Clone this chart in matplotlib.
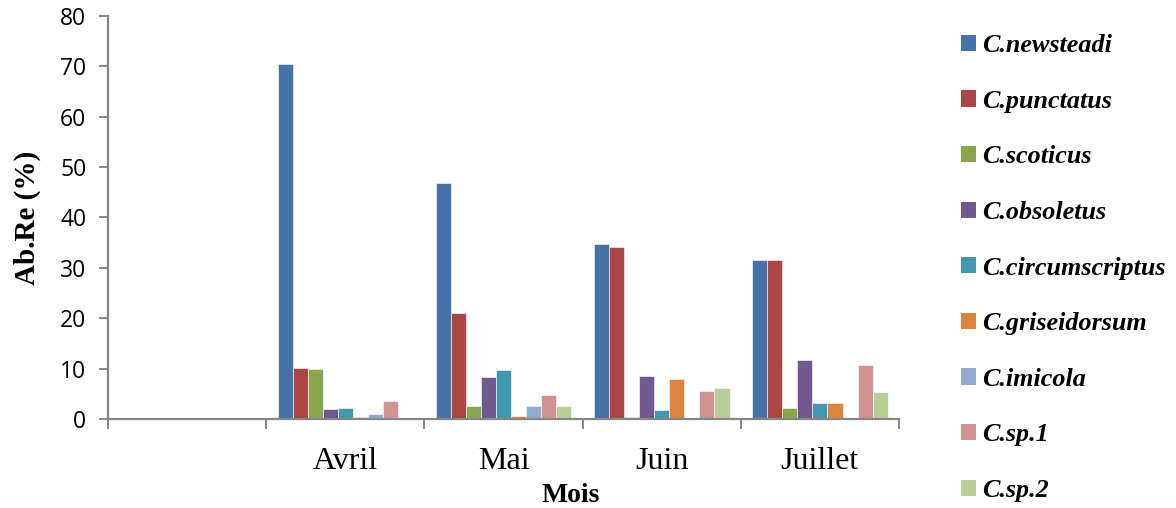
import numpy as np
import matplotlib
matplotlib.use("Agg")
import matplotlib.pyplot as plt
from matplotlib.patches import Patch

# Months (first category is empty in the original chart)
months = ["", "Avril", "Mai", "Juin", "Juillet"]

species = ["C.newsteadi", "C.punctatus", "C.scoticus", "C.obsoletus",
           "C.circumscriptus", "C.griseidorsum", "C.imicola", "C.sp.1", "C.sp.2"]

# Relative abundance (%) per species, one value per month
newsteadi = [0, 70.5, 46.8, 34.8, 31.5]
punctatus = [0, 10.1, 21.0, 34.1, 31.5]
scoticus = [0, 9.9, 2.6, 0.4, 2.1]
obsoletus = [0, 1.9, 8.4, 8.6, 11.8]
circumscriptus = [0, 2.1, 9.8, 1.8, 3.2]
griseidorsum = [0, 0.3, 0.5, 8.0, 3.2]
imicola = [0, 1.0, 2.6, 0, 0]
sp1 = [0, 3.6, 4.8, 5.5, 10.8]
sp2 = [0, 0, 2.6, 6.1, 5.4]

series = [newsteadi, punctatus, scoticus, obsoletus, circumscriptus,
          griseidorsum, imicola, sp1, sp2]

colors = ["#4572A7", "#AA4643", "#89A54E", "#71588F", "#4198AF",
          "#DB843D", "#93A9CF", "#D19392", "#B9CD96"]

axis_gray = "#868686"

fig = plt.figure(figsize=(11.76, 5.08), dpi=100)
ax = fig.add_axes([108 / 1176, 89 / 508, 791 / 1176, 403 / 508])

n = len(series)
x = np.arange(len(months))
gap = 1.5  # Excel style gap width (in bar widths)
w = 1.0 / (n + gap)
start = -0.5 + gap * w / 2

for i, (vals, col) in enumerate(zip(series, colors)):
    ax.bar(x + start + (i + 0.5) * w, vals, width=w, color=col,
           edgecolor="white", linewidth=0.4)

ax.set_xlim(-0.5, len(months) - 0.5)
ax.set_ylim(0, 80)
ax.set_yticks(np.arange(0, 81, 10))

# category boundary ticks + centered labels
ax.set_xticks(np.arange(-0.5, len(months), 1.0))
ax.set_xticklabels([])
ax.set_xticks(x, minor=True)
ax.set_xticklabels(months, minor=True, fontfamily="Liberation Serif", fontsize=23)
ax.tick_params(axis="x", which="major", length=7, width=1.4, color=axis_gray, direction="out")
ax.tick_params(axis="x", which="minor", length=0, pad=20)
ax.tick_params(axis="y", length=6.5, width=1.4, color=axis_gray, direction="out", pad=9)
for lab in ax.get_yticklabels():
    lab.set_fontfamily("Open Sans")
    lab.set_fontsize(16.5)

for side in ["top", "right"]:
    ax.spines[side].set_visible(False)
for side in ["left", "bottom"]:
    ax.spines[side].set_color(axis_gray)
    ax.spines[side].set_linewidth(1.6)

ax.set_ylabel("Ab.Re (%)", fontfamily="Liberation Serif", fontweight="bold", fontsize=21)
ax.yaxis.set_label_coords(-0.085, 0.5)

fig.text(571 / 1176, 1 - 495 / 508, "Mois", fontfamily="Liberation Serif",
         fontweight="bold", fontsize=20, ha="center", va="center")

handles = [Patch(facecolor=c, edgecolor="none") for c in colors]
fig.legend(handles, species, loc="upper left", bbox_to_anchor=(961 / 1176, 1 - 34 / 508),
           frameon=False, borderpad=0, borderaxespad=0,
           handlelength=0.58, handleheight=0.58, handletextpad=0.22,
           labelspacing=1.25,
           prop={"family": "Liberation Serif", "weight": "bold", "style": "italic", "size": 18.8})

fig.savefig("out.png", dpi=100)
